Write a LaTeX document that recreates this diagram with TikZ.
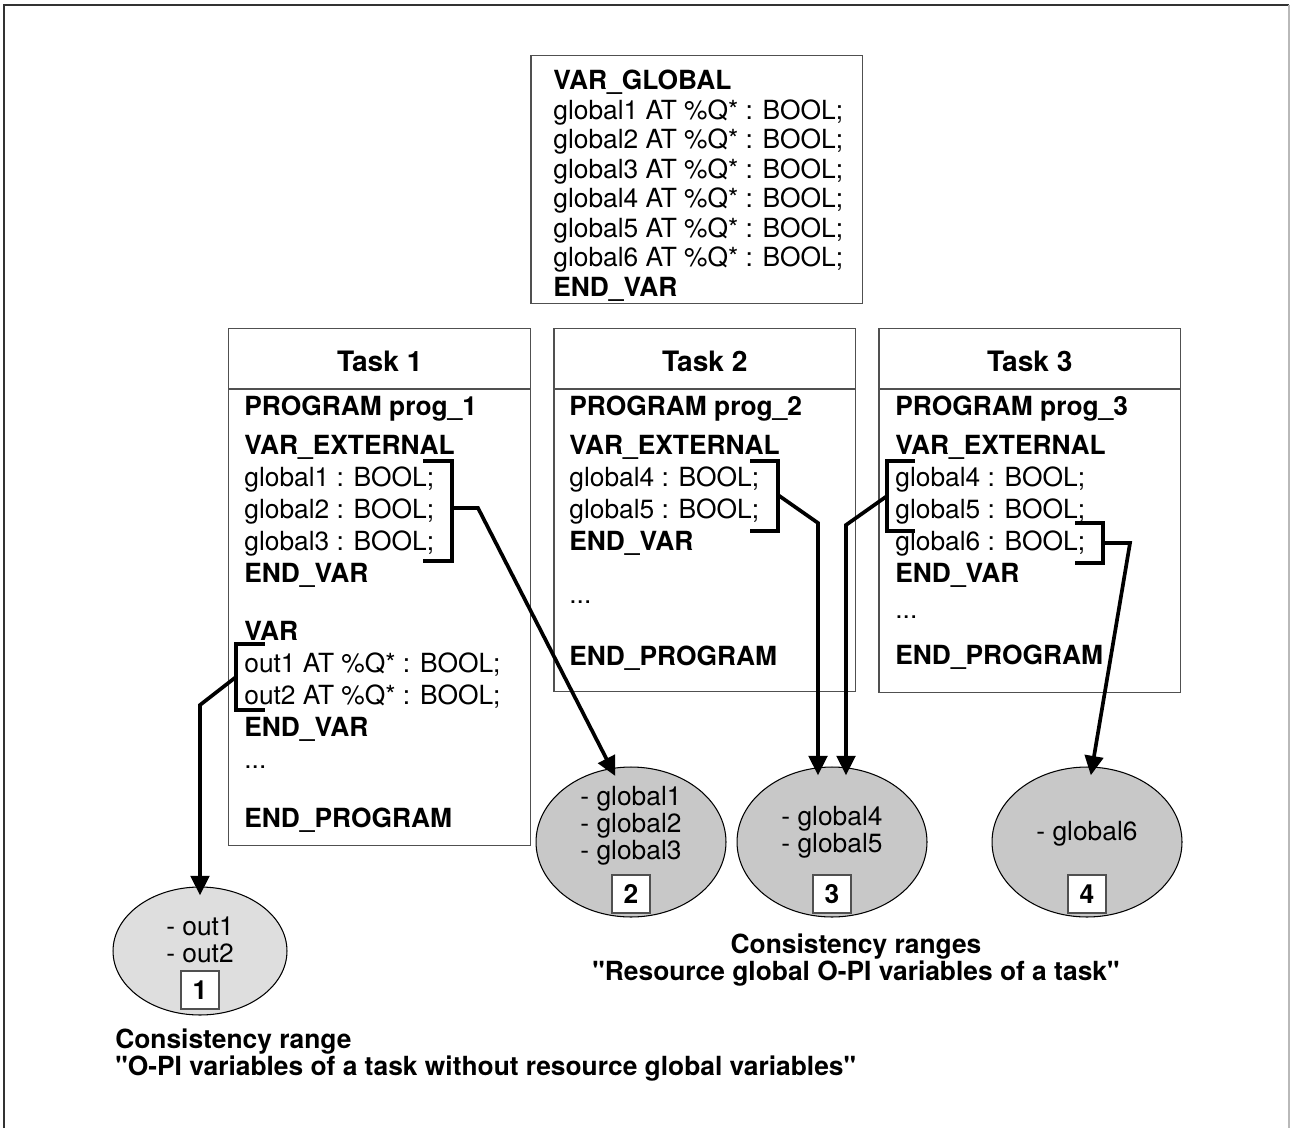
\documentclass[tikz,border=0pt]{standalone}
\usepackage{fontspec}
\setmainfont{TeX Gyre Heros}
\usetikzlibrary{positioning,arrows.meta,shapes.geometric,calc}

\definecolor{FrameDark}{RGB}{50,50,50}
\definecolor{FrameLight}{RGB}{185,185,185}
\definecolor{BoxGrey}{RGB}{80,80,80}
\definecolor{RangeGrey}{RGB}{200,200,200}
\definecolor{RangeLight}{RGB}{222,222,222}

\newcommand{\bodyfont}{\fontsize{15}{18.2}\selectfont}
\newcommand{\globfont}{\fontsize{15}{16.8}\selectfont}
\newcommand{\rangefont}{\fontsize{15}{15.4}\selectfont}
\newcommand{\kw}[1]{\textbf{#1}}

\tikzset{
  framedark/.style={draw=FrameDark, line width=1.1pt},
  framelight/.style={draw=FrameLight, line width=1.1pt},
  taskbox/.style={draw=BoxGrey, line width=0.85pt, minimum width=6.04cm, inner sep=0pt, anchor=north west},
  boxline/.style={draw=BoxGrey, line width=0.85pt},
  head/.style={font=\fontsize{16}{18}\selectfont\bfseries, inner sep=0pt},
  code/.style={font=\bodyfont, align=left, inner sep=0pt, anchor=north west},
  rangebox/.style={ellipse, draw=black, line width=0.6pt, fill=RangeGrey, inner sep=0pt,
    minimum width=3.8cm, minimum height=3cm},
  rtext/.style={font=\rangefont, align=center, inner sep=0pt},
  numbox/.style={draw=BoxGrey, line width=0.85pt, fill=white, minimum size=0.76cm, inner sep=0pt,
    font=\bodyfont\bfseries},
  brk/.style={line width=2.1pt, line cap=rect},
  conn/.style={-{Triangle[length=11pt,width=10.5pt]}, line width=2.1pt, shorten >=-5pt},
  caption/.style={font=\fontsize{15}{14}\selectfont\bfseries, inner sep=0pt},
}

\begin{document}
\begin{tikzpicture}[x=0.02cm, y=-0.02cm]
  \useasboundingbox (0,0) rectangle (1290,1128);
  \draw[framedark] (4,1128) |- (1289,5);
  \draw[framelight] (1289,5) -- (1289,1128);

  % global variables of the resource
  \node[taskbox, minimum width=6.64cm, minimum height=4.96cm] (glob) at (530,55) {};
  \node[code, font=\globfont] (globtxt) at (553,70) {\kw{VAR\_GLOBAL}\\
    global1 AT \%Q* : BOOL;\\
    global2 AT \%Q* : BOOL;\\
    global3 AT \%Q* : BOOL;\\
    global4 AT \%Q* : BOOL;\\
    global5 AT \%Q* : BOOL;\\
    global6 AT \%Q* : BOOL;\\
    \kw{END\_VAR}};

  % the three tasks
  \node[taskbox, minimum height=10.34cm] (t1) at (228,328) {};
  \node[taskbox, minimum height=7.26cm] (t2) at (553,328) {};
  \node[taskbox, minimum height=7.28cm] (t3) at (878,328) {};
  \foreach \t/\n in {t1/1, t2/2, t3/3} {
    \draw[boxline] ($(\t.north west)+(0,61)$) -- ($(\t.north east)+(0,61)$);
    \node[head] (h\n) at ($(\t.north)+(0,33)$) {Task \n};
  }

  \node[code] (p1) at (244,396) {\kw{PROGRAM prog\_1}\\[4pt]
    \kw{VAR\_EXTERNAL}\\
    global1 : BOOL;\\
    global2 : BOOL;\\
    global3 : BOOL;\\
    \kw{END\_VAR}\\[14.8pt]
    \kw{VAR}\\
    out1 AT \%Q* : BOOL;\\
    out2 AT \%Q* : BOOL;\\
    \kw{END\_VAR}\\
    ...\\[15pt]
    \kw{END\_PROGRAM}};
  \node[code] (p2) at (569,396) {\kw{PROGRAM prog\_2}\\[4pt]
    \kw{VAR\_EXTERNAL}\\
    global4 : BOOL;\\
    global5 : BOOL;\\
    \kw{END\_VAR}\\[12pt]
    ...\\[17pt]
    \kw{END\_PROGRAM}};
  \node[code] (p3) at (895,396) {\kw{PROGRAM prog\_3}\\[4pt]
    \kw{VAR\_EXTERNAL}\\
    global4 : BOOL;\\
    global5 : BOOL;\\
    global6 : BOOL;\\
    \kw{END\_VAR}\\[2pt]
    ...\\[8pt]
    \kw{END\_PROGRAM}};

  % consistency ranges
  \node[rangebox, fill=RangeLight, minimum width=3.48cm, minimum height=2.56cm] (r1) at (200,951) {};
  \node[rangebox] (r2) at (631,842) {};
  \node[rangebox] (r3) at (832,842) {};
  \node[rangebox] (r4) at (1087,842) {};

  \node[rtext] (l1) at (200,940) {- out1\\- out2};
  \node[rtext] (l2) at (631,826) {- global1\\- global2\\- global3};
  \node[rtext] (l3) at (832,832) {- global4\\- global5};
  \node[rtext] (l4) at (1087,834) {- global6};

  \node[numbox] (n1) at (200,990) {1};
  \node[numbox] (n2) at (631,894) {2};
  \node[numbox] (n3) at (832,894) {3};
  \node[numbox] (n4) at (1087,894) {4};

  % brackets round the grouped declarations
  \draw[brk] (425,461) -- (452,461) -- (452,561) -- (425,561);
  \draw[brk] (263,644) -- (236,644) -- (236,710) -- (263,710);
  \draw[brk] (752,461) -- (778,461) -- (778,531) -- (752,531);
  \draw[brk] (913,461) -- (887,461) -- (887,531) -- (913,531);
  \draw[brk] (1077,523) -- (1103,523) -- (1103,563) -- (1077,563);
  \coordinate (b1) at (452,508);
  \coordinate (b2) at (236,677);
  \coordinate (b3) at (778,495);
  \coordinate (b4) at (887,496);
  \coordinate (b5) at (1103,543);

  \draw[conn] (b1) -- ++(26,0) -- (r2.105.5);
  \draw[conn] (b2) -- ++(-36,28) -- (r1.north);
  \draw[conn] (b3) -- ++(40,28) -- ($(r3.north)+(-14,0)$);
  \draw[conn] (b4) -- ++(-41,29) -- ($(r3.north)+(14,0)$);
  \draw[conn] (b5) -- ++(27,0) -- (r4.86);

  \node[caption, align=center] (cap2) at (856,960) {Consistency ranges\\
    \textquotedbl Resource global O-PI variables of a task\textquotedbl};
  \node[caption, align=left, anchor=west] (cap1) at (115,1055) {Consistency range\\
    \textquotedbl O-PI variables of a task without resource global variables\textquotedbl};
\end{tikzpicture}
\end{document}
